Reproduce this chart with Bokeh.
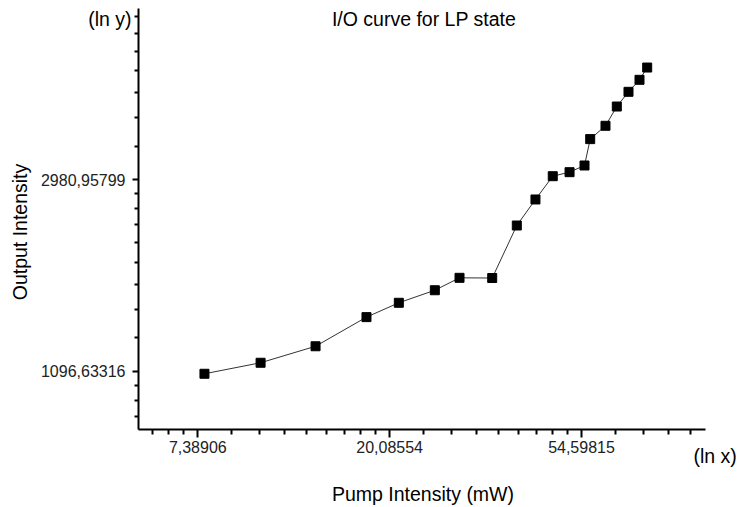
import math
from bokeh.plotting import figure
from bokeh.models import FixedTicker, CustomJSTickFormatter, Range1d, Label, ColumnDataSource
from bokeh.embed import file_html
from bokeh.resources import INLINE

# ---- data ----
pump_mw = [7.65, 10.25, 13.65, 17.8, 21.07, 25.42, 28.91, 34.28, 38.97, 42.95,
           47.0, 51.3, 55.46, 57.13, 61.87, 65.63, 69.75, 73.87, 76.89]
output_int = [1082, 1146, 1249, 1454, 1567, 1673, 1785, 1783, 2345, 2686,
              3033, 3097, 3207, 3680, 3945, 4362, 4710, 5014, 5346]

title_text = "I/O curve for LP state"
x_label = "Pump Intensity (mW)"
y_label = "Output Intensity"
x_major_ln = [2, 3, 4]
y_major_ln = [7, 8]
# visible axis extents (natural-log units)
x_axis_ln = (1.6909, 4.6464)
y_axis_ln = (6.6943, 8.8905)
# whole canvas extents (natural-log units)
x_view_ln = (0.9716, 4.8131)
y_view_ln = (6.2890, 8.9338)

FONT = "Liberation Sans"
W, H = 737, 507


def ln_minor(k0, k1, lo_ln, hi_ln):
    lo, hi = math.exp(lo_ln), math.exp(hi_ln)
    ticks = []
    for k in range(k0, k1):
        a, b = math.exp(k), math.exp(k + 1)
        step = (b - a) / 9.0
        ticks += [a + j * step for j in range(1, 9)]
    return [t for t in ticks if lo <= t <= hi]


p = figure(width=W, height=H, output_backend="svg", toolbar_location=None,
           x_axis_type="log", y_axis_type="log",
           x_range=Range1d(math.exp(x_view_ln[0]), math.exp(x_view_ln[1])),
           y_range=Range1d(math.exp(y_view_ln[0]), math.exp(y_view_ln[1])),
           min_border=0, min_border_left=0, min_border_right=0,
           min_border_top=0, min_border_bottom=0)
p.outline_line_color = None
p.xgrid.visible = False
p.ygrid.visible = False
p.background_fill_color = "white"
p.border_fill_color = "white"

fmt = "return tick.toFixed(5).replace('.', ',');"
p.xaxis.ticker = FixedTicker(ticks=[math.exp(k) for k in x_major_ln],
                             minor_ticks=ln_minor(1, 5, *x_axis_ln))
p.yaxis.ticker = FixedTicker(ticks=[math.exp(k) for k in y_major_ln],
                             minor_ticks=ln_minor(6, 9, *y_axis_ln))
p.xaxis.formatter = CustomJSTickFormatter(code=fmt)
p.yaxis.formatter = CustomJSTickFormatter(code=fmt)

p.xaxis.fixed_location = math.exp(y_axis_ln[0])
p.xaxis.bounds = (math.exp(x_axis_ln[0]), math.exp(x_axis_ln[1]))
p.yaxis.fixed_location = math.exp(x_axis_ln[0])
p.yaxis.bounds = (math.exp(y_axis_ln[0]), math.exp(y_axis_ln[1]))

for ax in (p.xaxis, p.yaxis):
    ax.axis_line_width = 2
    ax.axis_line_color = "black"
    ax.major_tick_line_width = 2
    ax.minor_tick_line_width = 2
    ax.major_tick_line_color = "black"
    ax.minor_tick_line_color = "black"
    ax.major_tick_in = 0
    ax.minor_tick_in = 0
    ax.major_label_text_font = FONT
    ax.major_label_text_font_size = "16px"
    ax.major_label_text_color = "#222222"

p.xaxis.major_tick_out = 8
p.xaxis.minor_tick_out = 5
p.xaxis.major_label_standoff = 3
p.yaxis.major_tick_out = 6
p.yaxis.minor_tick_out = 4
p.yaxis.major_label_standoff = 7

src = ColumnDataSource(dict(x=pump_mw, y=output_int))
p.line("x", "y", source=src, line_color="#333333", line_width=1)
p.scatter("x", "y", source=src, marker="square", size=9, fill_color="black", line_color="black")

# text annotations (screen units from the canvas bottom-left)
common = dict(x_units="screen", y_units="screen", text_font=FONT, text_color="black",
              text_font_size="19.5px", text_baseline="alphabetic")
p.add_layout(Label(x=423.5, y=488.5, text=title_text, text_align="center", **common))
p.add_layout(Label(x=131, y=488.3, text="(ln y)", text_align="right", **common))
p.add_layout(Label(x=693, y=51.3, text="(ln x)", text_align="left", **common))
p.add_layout(Label(x=422.5, y=14, text=x_label, text_align="center", **common))
p.add_layout(Label(x=19, y=275.5, text=y_label, text_align="center", angle=math.pi / 2, **common))

open("out.html", "w").write(file_html(p, INLINE))
